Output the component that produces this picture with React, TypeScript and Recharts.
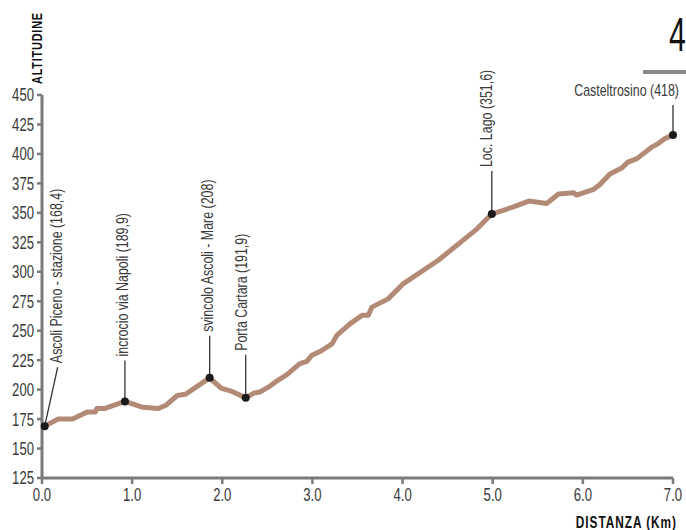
import React from "react"
import { ComposedChart, Line, Scatter, XAxis, YAxis } from "recharts"

const distances = [0.03, 0.18, 0.34, 0.5, 0.59, 0.61, 0.7, 0.92, 1.12, 1.29, 1.38, 1.5, 1.59, 1.86, 1.99, 2.09, 2.26, 2.35, 2.42, 2.53, 2.6, 2.72, 2.86, 2.94, 2.99, 3.1, 3.22, 3.27, 3.42, 3.55, 3.62, 3.66, 3.84, 4.01, 4.4, 4.82, 4.99, 5.23, 5.4, 5.6, 5.73, 5.9, 5.93, 6.12, 6.19, 6.3, 6.43, 6.5, 6.6, 6.77, 6.84, 6.91, 7.0]
const elevations = [169, 175, 175, 181, 181, 184, 184, 190, 185, 184, 187, 195, 196, 210, 201, 199, 193, 197, 198, 203, 207, 213, 222, 224, 229, 233, 239, 246, 256, 263, 263, 270, 277, 290, 310, 336, 349, 355, 360, 358, 366, 367, 365, 370, 374, 383, 388, 393, 396, 406, 409, 413, 416]

const placeNames = [
  "Ascoli Piceno - stazione (168,4)",
  "incrocio via Napoli (189,9)",
  "svincolo Ascoli - Mare (208)",
  "Porta Cartara (191,9)",
  "Loc. Lago (351,6)",
  "Casteltrosino (418)",
]
const placeDistances = [0.03, 0.92, 1.86, 2.26, 4.99, 7.0]
const placeElevations = [169, 190, 210, 193, 349, 416]

const xTicks = [0, 1, 2, 3, 4, 5, 6, 7]
const yTicks = [125, 150, 175, 200, 225, 250, 275, 300, 325, 350, 375, 400, 425, 450]

const profile = distances.map((d, i) => ({ km: d, alt: elevations[i] }))
const places = placeNames.map((name, i) => ({ km: placeDistances[i], alt: placeElevations[i], name }))

const FONT = "'Liberation Sans', Arial, sans-serif"
const NARROW = 0.73
const AXIS = "#7a7a7a"
const TEXT = "#3a3a3a"

// leader layout per label: dx = leader end offset, len = leader length, tdx = text offset
const labelLayout: Record<number, { dx: number; len: number; tdx: number; horizontal?: boolean }> = {
  0: { dx: 13, len: 59, tdx: -1 },
  1: { dx: 0, len: 41, tdx: -3 },
  2: { dx: 0, len: 42, tdx: -2 },
  3: { dx: 0, len: 43, tdx: -4 },
  4: { dx: 0, len: 43, tdx: -6 },
  5: { dx: 0, len: 30, tdx: 0, horizontal: true },
}

function PlaceMarker(props: any) {
  const { cx, cy, payload, index } = props
  const idx = typeof index === "number" ? index : placeNames.indexOf(payload?.name)
  const lay = labelLayout[idx] || { dx: 0, len: 42, tdx: -4 }
  const x2 = cx + lay.dx
  const y2 = cy - lay.len
  return (
    <g>
      <line x1={cx} y1={cy} x2={x2} y2={y2} stroke="#333" strokeWidth={1.3} />
      {lay.horizontal ? (
        <text
          transform={`translate(${x2 + 6}, ${y2 - 15}) scale(${NARROW}, 1)`}
          textAnchor="end"
          dominantBaseline="central"
          fontFamily={FONT}
          fontSize={17}
          fill={TEXT}
        >
          {payload.name}
        </text>
      ) : (
        <text
          transform={`translate(${x2 + lay.tdx}, ${y2 - 4}) rotate(-90) scale(${NARROW}, 1)`}
          textAnchor="start"
          dominantBaseline="central"
          fontFamily={FONT}
          fontSize={17}
          fill={TEXT}
        >
          {payload.name}
        </text>
      )}
      <circle cx={cx} cy={cy} r={4} fill="#1a1a1a" />
    </g>
  )
}

function XTick(props: any) {
  const { x, y, payload } = props
  return (
    <text transform={`translate(${x}, ${y}) scale(${NARROW}, 1)`} textAnchor="middle" dy="0.78em" fontFamily={FONT} fontSize={18} fill={TEXT}>
      {Number(payload.value).toFixed(1)}
    </text>
  )
}

function YTick(props: any) {
  const { x, y, payload } = props
  return (
    <text transform={`translate(${x}, ${y}) scale(${NARROW}, 1)`} textAnchor="end" dy="0.36em" fontFamily={FONT} fontSize={18} fill={TEXT}>
      {payload.value}
    </text>
  )
}

export default function App() {
  return (
    <div style={{ position: "absolute", left: 0, top: 0, width: 686, height: 530, background: "#fff", overflow: "hidden" }}>
      <ComposedChart width={686} height={530} margin={{ top: 95, right: 13, bottom: 22, left: 12 }}>
        <XAxis
          type="number"
          dataKey="km"
          domain={[0, 7]}
          ticks={xTicks}
          height={30}
          axisLine={{ stroke: AXIS, strokeWidth: 3 }}
          tickLine={{ stroke: AXIS, strokeWidth: 2.5 }}
          tickSize={6}
          tickMargin={3}
          tick={<XTick />}
        />
        <YAxis
          type="number"
          dataKey="alt"
          domain={[125, 450]}
          ticks={yTicks}
          width={30}
          axisLine={{ stroke: AXIS, strokeWidth: 3 }}
          tickLine={{ stroke: AXIS, strokeWidth: 2.5 }}
          tickSize={5}
          tickMargin={3}
          tick={<YTick />}
        />
        <Line
          data={profile}
          dataKey="alt"
          type="linear"
          stroke="#b38a76"
          strokeWidth={5}
          strokeLinejoin="round"
          dot={false}
          activeDot={false}
          isAnimationActive={false}
        />
        <Scatter data={places} dataKey="alt" shape={PlaceMarker} isAnimationActive={false} />
      </ComposedChart>
      <svg width={686} height={530} style={{ position: "absolute", left: 0, top: 0, pointerEvents: "none" }}>
        <text
          transform="translate(38, 84) rotate(-90) scale(0.78, 1)"
          textAnchor="start"
          dominantBaseline="central"
          fontFamily={FONT}
          fontWeight={700}
          fontSize={14}
          letterSpacing={1}
          fill="#111"
        >
          ALTITUDINE
        </text>
        <text
          transform="translate(677, 522) scale(0.74, 1)"
          textAnchor="end"
          dominantBaseline="central"
          fontFamily={FONT}
          fontWeight={700}
          fontSize={16}
          letterSpacing={1.3}
          fill="#111"
        >
          DISTANZA (Km)
        </text>
        <text transform="translate(669, 51) scale(0.62, 1)" textAnchor="start" fontFamily={FONT} fontSize={49} fill="#111">
          4
        </text>
        <rect x={643} y={70} width={43} height={4} fill="#8a8a8a" />
      </svg>
    </div>
  )
}
